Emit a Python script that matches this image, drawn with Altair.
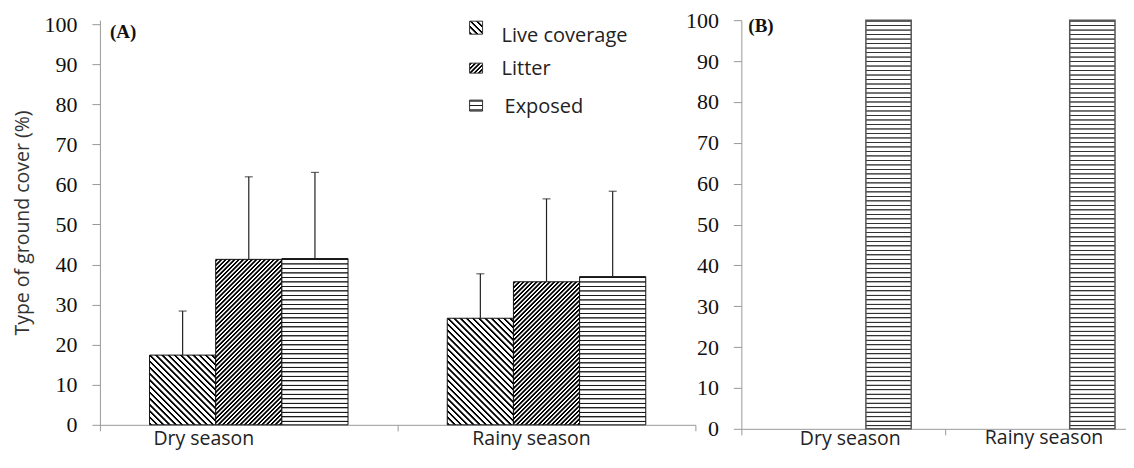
import math
import altair as alt
import pandas as pd

# ---------------- data ----------------
seasons = ["Dry season", "Rainy season"]
series = ["Live coverage", "Litter", "Exposed"]

# Panel (A): means and upper end of the error bars (mean + SD)
a_live = [17.4, 26.6]
a_litter = [41.3, 35.7]
a_exposed = [41.5, 37.0]
a_live_up = [28.4, 37.7]
a_litter_up = [61.9, 56.4]
a_exposed_up = [63.0, 58.3]

# Panel (B)
b_live = [0.0, 0.0]
b_litter = [0.0, 0.0]
b_exposed = [100.0, 100.0]

y_ticks = list(range(0, 101, 10))
panel_labels = ["(A)", "(B)"]
y_title = "Type of ground cover (%)"

# ---------------- layout / style ----------------
WA, HA = 596, 405
WB, HB = 408, 409
A_TOP = 100 * 405 / 401   # panel A plot starts a little above its 100 tick
B_TOP = 100
OUTER = 0.75  # outer padding of the offset scale -> group = 2/3 of the band

SANS = "Open Sans"
SERIF = "Liberation Serif"

# kind, perpendicular period (px), ink width (px), ink colour
HATCH = {
    "Live coverage": ("back", 4.4, 1.7, "#000000"),
    "Litter": ("fwd", 3.1, 1.65, "#000000"),
    "Exposed": ("horiz", 4.5, 1.2, "#1a1a1a"),
}
RAMP = 0.55


def hatch(ser, w, h, ink_override=None):
    kind, period, ink_w, ink = HATCH[ser]
    if ink_override:
        ink = ink_override
    if kind == "horiz":
        span = h
        x1, y1, x2, y2 = 0, 0, 0, 1
    else:
        s = (w + h) / (w * w + h * h)
        span = (w + h) / math.sqrt(2)
        if kind == "back":
            x1, y1, x2, y2 = 0, 1, s * w, 1 - s * h
        else:
            x1, y1, x2, y2 = 0, 0, s * w, s * h
    stops = []
    k = 0
    while k * period < span:
        base = k * period
        pts = [(0, "#ffffff"), (RAMP, ink), (ink_w, ink), (ink_w + RAMP, "#ffffff")]
        for px, col in pts:
            off = min((base + px) / span, 1.0)
            stops.append({"offset": off, "color": col})
        k += 1
    return {"gradient": "linear", "x1": x1, "y1": y1, "x2": x2, "y2": y2, "stops": stops}


def make_panel(vals, ups, W, H, ytop, title, label, label_pos, stroke, stroke_w, legend,
               cat_dx, cat_dy, hatch_ink=None, legend_shift=0):
    step = W / len(seasons)
    bw = step / (len(series) + 2 * OUTER)

    x_axis = alt.Axis(
        title=None, labels=False, tickSize=6, tickColor="#999999",
        domainColor="#999999", tickBand="extent",
    )
    y_axis = alt.Axis(
        values=y_ticks, title=title, labelFont=SERIF, labelFontSize=22,
        labelColor="#111111", labelPadding=15, tickSize=8, tickColor="#999999",
        domainColor="#999999", grid=False, titleFont=SANS, titleFontSize=19.5,
        titleFontWeight="normal", titleColor="#333333", titlePadding=11,
    )
    y_scale = alt.Scale(domain=[0, ytop], nice=False)
    x_enc = alt.X("season:N", scale=alt.Scale(domain=seasons, paddingInner=0, paddingOuter=0), axis=x_axis)
    xo_enc = alt.XOffset("series:N", scale=alt.Scale(domain=series, paddingInner=0, paddingOuter=OUTER))
    y_enc = alt.Y("value:Q", scale=y_scale, axis=y_axis)

    layers = []
    for ser in series:
        for i, season in enumerate(seasons):
            v = vals[ser][i]
            if v <= 0:
                continue
            g = hatch(ser, bw, v / ytop * H, hatch_ink)
            df = pd.DataFrame({"season": [season], "series": [ser], "value": [v]})
            layers.append(
                alt.Chart(df).mark_bar(fill=g, stroke=stroke, strokeWidth=stroke_w)
                .encode(x=x_enc, xOffset=xo_enc, y=y_enc)
            )

    if ups is not None:
        rows = []
        for ser in series:
            for i, season in enumerate(seasons):
                rows.append({"season": season, "series": ser, "value": vals[ser][i], "upper": ups[ser][i]})
        edf = pd.DataFrame(rows)
        layers.append(
            alt.Chart(edf).mark_rule(color="#222222", strokeWidth=1.2)
            .encode(x=x_enc, xOffset=xo_enc, y=y_enc, y2=alt.Y2("upper:Q"))
        )
        layers.append(
            alt.Chart(edf).mark_tick(orient="horizontal", size=8, thickness=1.2, color="#222222")
            .encode(x=x_enc, xOffset=xo_enc, y=alt.Y("upper:Q", scale=y_scale, axis=y_axis))
        )

    # category labels under the axis
    for i, season in enumerate(seasons):
        layers.append(
            alt.Chart(pd.DataFrame({"season": [season]}))
            .mark_text(font=SANS, fontSize=19.5, align="center", baseline="alphabetic",
                       color="#222222", dx=cat_dx[i])
            .encode(x=x_enc, y=alt.value(H + cat_dy[i]), text="season:N")
        )

    layers.append(
        alt.Chart(pd.DataFrame({"t": [label]}))
        .mark_text(font=SERIF, fontWeight="bold", fontSize=19, align="left", baseline="middle", color="#111111")
        .encode(x=alt.value(label_pos[0]), y=alt.value(label_pos[1]), text="t:N")
    )

    if legend:
        sw_y = [(-3, 10), (39, 49), (76, 87)]
        tx = [(402, 18), (402, 51), (405, 89)]
        for j, ser in enumerate(series):
            d = pd.DataFrame({"series": [ser]})
            y0, y1 = sw_y[j][0] + legend_shift, sw_y[j][1] + legend_shift
            layers.append(
                alt.Chart(d).mark_rect(fill=hatch(ser, 13, y1 - y0), stroke="#333333", strokeWidth=1)
                .encode(x=alt.value(370), x2=alt.value(383), y=alt.value(y0), y2=alt.value(y1))
            )
            layers.append(
                alt.Chart(d).mark_text(font=SANS, fontSize=20, align="left", baseline="alphabetic", color="#222222")
                .encode(x=alt.value(tx[j][0]), y=alt.value(tx[j][1] + legend_shift), text="series:N")
            )

    return alt.layer(*layers).properties(width=W, height=H)


a_vals = {"Live coverage": a_live, "Litter": a_litter, "Exposed": a_exposed}
a_ups = {"Live coverage": a_live_up, "Litter": a_litter_up, "Exposed": a_exposed_up}
b_vals = {"Live coverage": b_live, "Litter": b_litter, "Exposed": b_exposed}

panel_a = make_panel(a_vals, a_ups, WA, HA, A_TOP, y_title, panel_labels[0], (10, 12), "#111111", 1, True,
                     cat_dx=[-45, -15], cat_dy=[20, 20], legend_shift=4)
panel_b = make_panel(b_vals, None, WB, HB, B_TOP, None, panel_labels[1], (7, 6), "#555555", 1.5, False,
                     cat_dx=[7, -3], cat_dy=[16, 15], hatch_ink="#333333")

chart = (
    alt.hconcat(panel_a, panel_b, spacing=-11)
    .resolve_scale(x="independent", xOffset="independent", y="independent")
    .properties(padding={"left": 5, "top": 1, "right": -24, "bottom": 3}, background="#ffffff")
    .configure_view(stroke=None)
)

chart.save("out.html", embed_options={"renderer": "svg", "actions": False})
